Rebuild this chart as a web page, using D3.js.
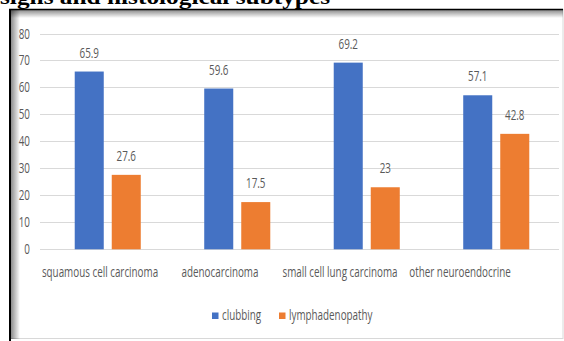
<!DOCTYPE html>
<html>
<head>
<meta charset="utf-8">
<script src="https://cdn.jsdelivr.net/npm/d3@7/dist/d3.min.js"></script>
<style>
  html, body { margin: 0; padding: 0; background: #fff; }
  svg { display: block; }
</style>
</head>
<body>
<div id="chart"></div>
<script>
// Histological subtypes and the share of patients showing each sign (%)
const categories = ["squamous cell carcinoma", "adenocarcinoma", "small cell lung carcinoma", "other neuroendocrine"];
const seriesNames = ["clubbing", "lymphadenopathy"];
const clubbing = [65.9, 59.6, 69.2, 57.1];
const lymphadenopathy = [27.6, 17.5, 23, 42.8];
const yTicks = [0, 10, 20, 30, 40, 50, 60, 70, 80];
const colors = ["#4472C4", "#ED7D31"];

const W = 564, H = 341;
const textColor = "#595959";
const font = "'Open Sans', 'DejaVu Sans', sans-serif";
const squeeze = 0.68;

const svg = d3.select("#chart").append("svg")
  .attr("width", W).attr("height", H);

const defs = svg.append("defs");
const gTop = defs.append("linearGradient").attr("id", "shadeTop")
  .attr("x1", 0).attr("y1", 0).attr("x2", 0).attr("y2", 1);
gTop.append("stop").attr("offset", "0%").attr("stop-color", "#000").attr("stop-opacity", 0.45);
gTop.append("stop").attr("offset", "100%").attr("stop-color", "#000").attr("stop-opacity", 0);
const gLeft = defs.append("linearGradient").attr("id", "shadeLeft")
  .attr("x1", 0).attr("y1", 0).attr("x2", 1).attr("y2", 0);
gLeft.append("stop").attr("offset", "0%").attr("stop-color", "#000").attr("stop-opacity", 0.5);
gLeft.append("stop").attr("offset", "100%").attr("stop-color", "#000").attr("stop-opacity", 0);

// Heading line running along the top edge
svg.append("text")
  .attr("x", 0).attr("y", 3.5)
  .attr("font-family", "'Liberation Serif', 'Times New Roman', serif")
  .attr("font-weight", "bold")
  .attr("font-size", 20)
  .attr("fill", "#000")
  .attr("textLength", 330)
  .attr("lengthAdjust", "spacingAndGlyphs")
  .text("signs and histological subtypes");

// Chart frame with inset shading
svg.append("rect").attr("x", 10).attr("y", 9.5).attr("width", 553).attr("height", 329)
  .attr("fill", "#fff").attr("stroke", "#d8d8d8").attr("stroke-width", 1);
svg.append("rect").attr("x", 10).attr("y", 10).attr("width", 553).attr("height", 8)
  .attr("fill", "url(#shadeTop)");
svg.append("rect").attr("x", 10).attr("y", 10).attr("width", 10).attr("height", 329)
  .attr("fill", "url(#shadeLeft)");
svg.append("line").attr("x1", 9).attr("x2", 563).attr("y1", 9.5).attr("y2", 9.5)
  .attr("stroke", "#000").attr("stroke-width", 1.5);
svg.append("line").attr("x1", 10).attr("x2", 10).attr("y1", 9).attr("y2", 341)
  .attr("stroke", "#000").attr("stroke-width", 2);

// Scales
const y = d3.scaleLinear().domain([0, 80]).range([249.3, 33.5]);
const x0 = d3.scaleBand().domain(categories).range([43, 561])
  .paddingInner(0.49).paddingOuter(0.245);
const x1 = d3.scaleBand().domain(seriesNames).range([0, x0.bandwidth()])
  .paddingInner(0.216);
const xLabel = d3.scaleBand().domain(categories).range([40, 520]);
const gridX = [40, 559];

function squeezed(sel, x, yy) {
  return sel.attr("transform", `translate(${x},${yy}) scale(${squeeze},1)`);
}

// Gridlines and y tick labels
const yAxis = svg.append("g");
yAxis.selectAll("line").data(yTicks).join("line")
  .attr("x1", gridX[0]).attr("x2", gridX[1])
  .attr("y1", d => Math.round(y(d)) + 0.5).attr("y2", d => Math.round(y(d)) + 0.5)
  .attr("stroke", "#d9d9d9").attr("stroke-width", 1);
yAxis.selectAll("text").data(yTicks).join("text")
  .each(function (d) { squeezed(d3.select(this), 30, y(d) + 5); })
  .attr("text-anchor", "end")
  .attr("font-family", font).attr("font-size", 14.5).attr("fill", textColor)
  .text(d => d);

// Bars
const data = categories.map((c, i) => ({
  category: c,
  values: [
    { series: seriesNames[0], value: clubbing[i] },
    { series: seriesNames[1], value: lymphadenopathy[i] }
  ]
}));

const groups = svg.append("g").selectAll("g").data(data).join("g")
  .attr("transform", d => `translate(${x0(d.category)},0)`);

groups.selectAll("rect").data(d => d.values).join("rect")
  .attr("x", d => x1(d.series))
  .attr("width", x1.bandwidth())
  .attr("y", d => y(d.value))
  .attr("height", d => y(0) - y(d.value))
  .attr("fill", (d, i) => colors[i]);

// Value labels
groups.selectAll("text").data(d => d.values).join("text")
  .each(function (d) {
    squeezed(d3.select(this), x1(d.series) + x1.bandwidth() / 2, y(d.value) - 14);
  })
  .attr("text-anchor", "middle")
  .attr("font-family", font).attr("font-size", 14.5).attr("fill", textColor)
  .text(d => d.value);

// Category labels
svg.append("g").selectAll("text").data(categories).join("text")
  .each(function (d) {
    squeezed(d3.select(this), xLabel(d) + xLabel.bandwidth() / 2, 277);
  })
  .attr("text-anchor", "middle")
  .attr("font-family", font).attr("font-size", 14.5).attr("fill", textColor)
  .text(d => d);

// Legend
const legendItems = [
  { name: seriesNames[0], x: 212 },
  { name: seriesNames[1], x: 279 }
];
const legend = svg.append("g").selectAll("g").data(legendItems).join("g");
legend.append("rect")
  .attr("x", d => d.x).attr("y", 312.5)
  .attr("width", 6.5).attr("height", 6.5)
  .attr("fill", (d, i) => colors[i]);
legend.append("text")
  .each(function (d) { squeezed(d3.select(this), d.x + 10, 320); })
  .attr("font-family", font).attr("font-size", 14.5).attr("fill", textColor)
  .text(d => d.name);
</script>
</body>
</html>
